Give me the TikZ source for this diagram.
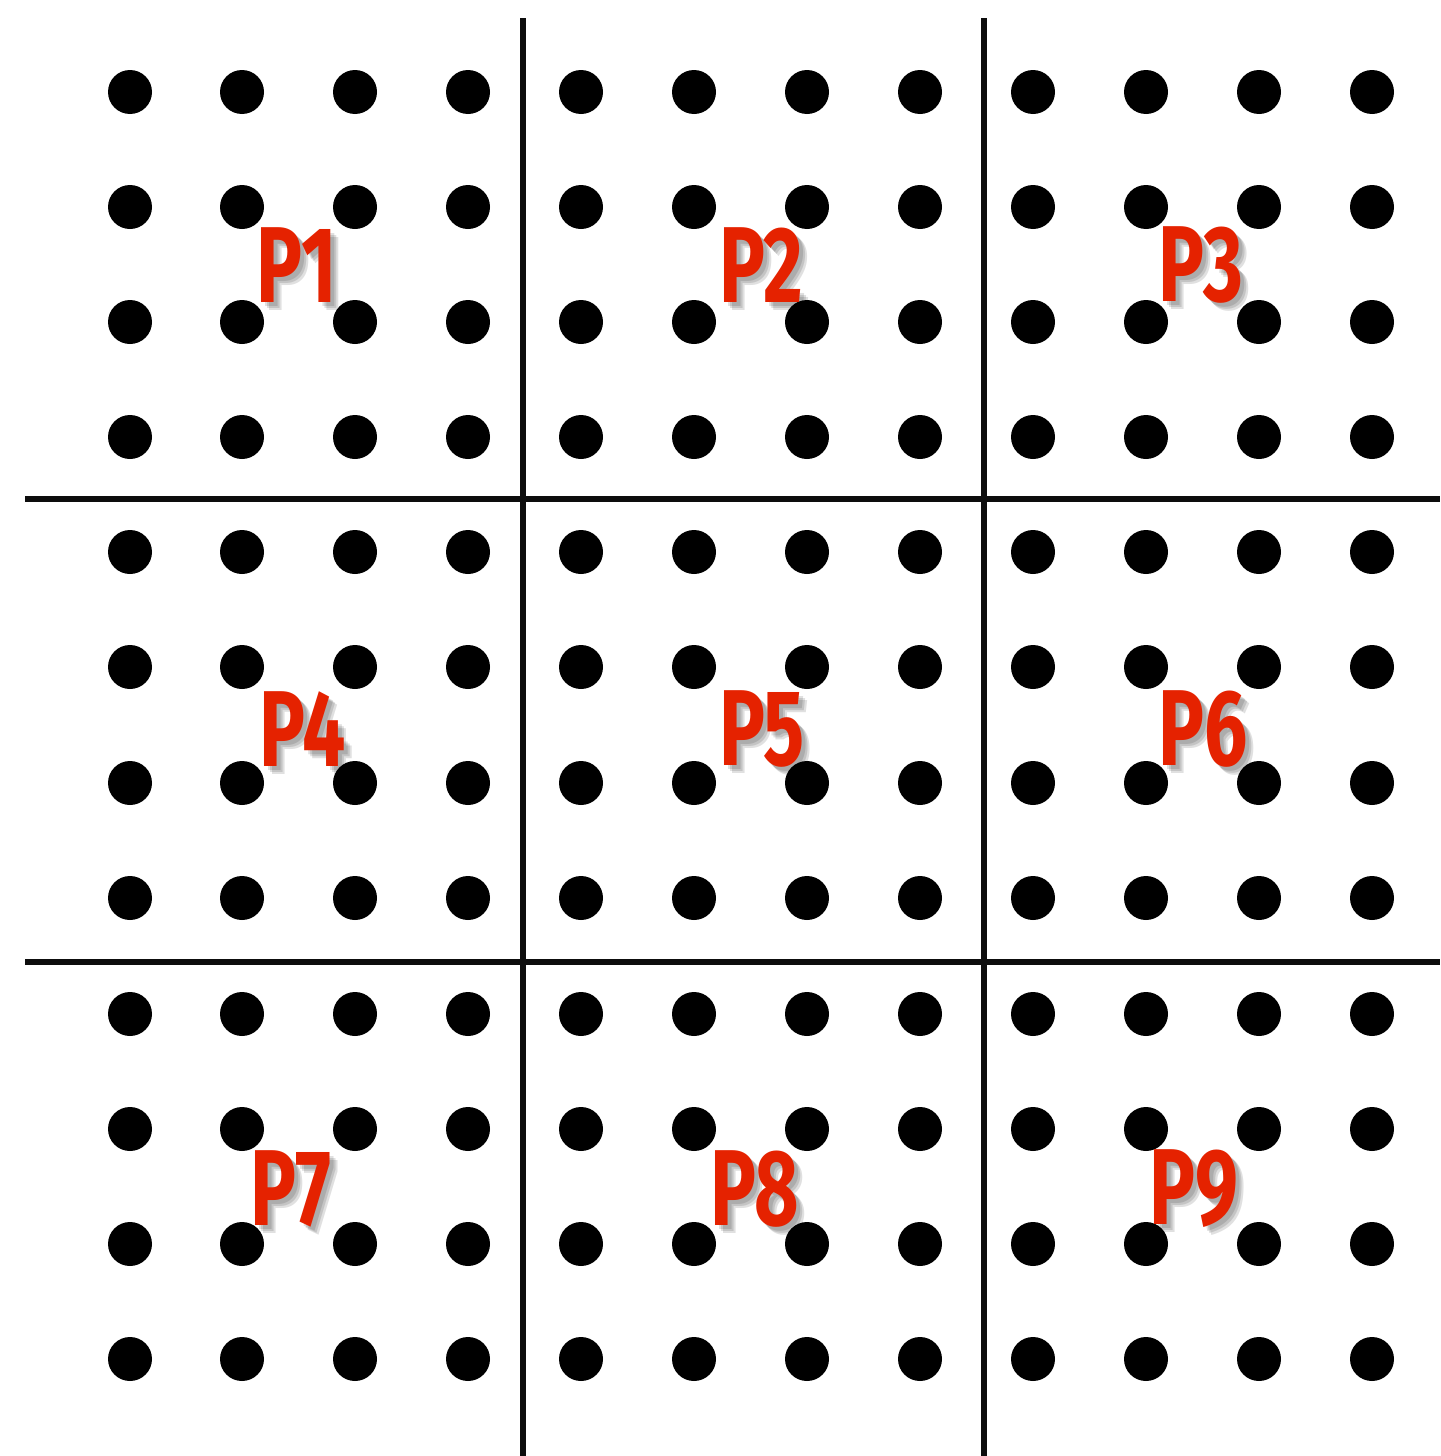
\documentclass[tikz,border=0pt]{standalone}
\usepackage{fontspec}
\newfontfamily\labfont[FakeStretch=0.71]{Fira Sans Bold}
\definecolor{labred}{HTML}{E52200}
\begin{document}
\begin{tikzpicture}[x=0.5pt,y=-0.5pt,
  dot/.style={fill=black},
  divider/.style={line width=3pt,black!95},
  lab/.style={inner sep=0pt,anchor=center,font=\labfont\fontsize{54}{54}\selectfont,text=labred},
  labshadow/.style={inner sep=0pt,anchor=center,font=\labfont\fontsize{54}{54}\selectfont,text=black,opacity=0.12}]
\useasboundingbox[fill=white] (0,0) rectangle (1440,1456);
\foreach \x in {130,242,355,468,581,694,807,920,1033,1146,1259,1372}
  \foreach \y in {92,207,322,437,552,667,783,898,1014,1129,1244,1359}
    \fill[dot] (\x,\y) circle[radius=11pt];
\draw[divider] (523,18) coordinate (v1a) -- (523,1456) coordinate (v1b);
\draw[divider] (984,18) coordinate (v2a) -- (984,1456) coordinate (v2b);
\draw[divider] (25,499) coordinate (h1a) -- (1440,499) coordinate (h1b);
\draw[divider] (25,962) coordinate (h2a) -- (1440,962) coordinate (h2b);
\foreach \n/\x/\y in {1/297/265,2/761/265,3/1201/265,4/303/729,5/762/729,6/1203/729,7/291/1189,8/755/1189,9/1194/1189}{
  \foreach \dx/\dy in {4/4,6/6,8/8}
    \node[labshadow] at (\x+\dx,\y+\dy) {P\n};
  \node[lab] (p\n) at (\x,\y) {P\n};
}
\end{tikzpicture}
\end{document}
